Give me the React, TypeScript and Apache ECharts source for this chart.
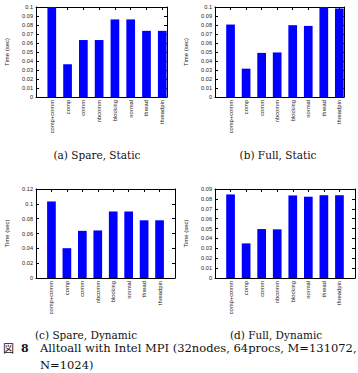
import React, { useEffect, useRef } from "react";
import * as echarts from "echarts";

// Benchmark variants shown on every panel's horizontal axis
const CATEGORIES = ["comp+comm", "comp", "comm", "nbcomm", "blocking", "normal", "thread", "threadpin"];

// Elapsed time (sec) per variant
const SPARE_STATIC = [0.1, 0.0363, 0.0633, 0.0633, 0.0862, 0.0862, 0.0735, 0.0735];
const FULL_STATIC = [0.0805, 0.0315, 0.049, 0.0495, 0.0798, 0.079, 0.1, 0.0982];
const SPARE_DYNAMIC = [0.1032, 0.0402, 0.0636, 0.0641, 0.0897, 0.0897, 0.0778, 0.0778];
const FULL_DYNAMIC = [0.0845, 0.035, 0.0495, 0.0492, 0.0835, 0.0822, 0.0837, 0.0837];

// Vertical axis ranges per panel
const Y_MAX = [0.1, 0.1, 0.12, 0.09];
const Y_STEP = [0.01, 0.01, 0.02, 0.01];

const CAPTIONS = ["(a) Spare, Static", "(b) Full, Static", "(c) Spare, Dynamic", "(d) Full, Dynamic"];
const FIG_LABEL = "図";
const FIG_NUMBER = "8";
const FIG_LINE1 = "Alltoall with Intel MPI (32nodes, 64procs, M=131072,";
const FIG_LINE2 = "N=1024)";
const Y_NAME = "Time (sec)";

const SERIES = [SPARE_STATIC, FULL_STATIC, SPARE_DYNAMIC, FULL_DYNAMIC];

// Panel geometry (pixels) and x extents
const PANELS = [
  { left: 36, top: 7, width: 131, height: 90, xMax: 7.3, capX: 97, capY: 155 },
  { left: 215, top: 7, width: 129, height: 90, xMax: 7.3, capX: 278, capY: 155 },
  { left: 36, top: 189, width: 139, height: 89, xMax: 8, capX: 86, capY: 335 },
  { left: 215, top: 189, width: 140, height: 89, xMax: 8, capX: 276, capY: 335 },
];

const SANS = "Liberation Sans";
const SERIF = "DejaVu Serif";

// category name for an integer position on the x axis, blank elsewhere
const catName = (v: number) => {
  const i = Math.round(v);
  return Math.abs(v - i) < 1e-6 && i >= 0 && i < CATEGORIES.length ? CATEGORIES[i] : "";
};

const FRAME = { show: true, onZero: false, lineStyle: { color: "#000", width: 1 } };
const TICK = { show: true, inside: true, length: 3, lineStyle: { color: "#000" } };

export default function App() {
  const ref = useRef<HTMLDivElement>(null);

  useEffect(() => {
    document.body.style.margin = "0";
    if (!ref.current) return;
    const chart = echarts.init(ref.current, null, { renderer: "svg" });

    const grid: any[] = [];
    const xAxis: any[] = [];
    const yAxis: any[] = [];
    const series: any[] = [];
    const graphic: any[] = [];

    PANELS.forEach((p, k) => {
      grid.push({ left: p.left, top: p.top, width: p.width, height: p.height });
      // bottom axis with category names
      xAxis.push({
        type: "value",
        gridIndex: k,
        min: -1,
        max: p.xMax,
        interval: 1,
        axisLine: FRAME,
        splitLine: { show: false },
        axisTick: TICK,
        axisLabel: {
          show: true,
          showMinLabel: false,
          showMaxLabel: false,
          rotate: 90,
          margin: 3,
          fontSize: 5.8,
          fontFamily: SANS,
          color: "#222",
          formatter: catName,
        },
      });
      // mirrored top ticks
      xAxis.push({
        type: "value",
        gridIndex: k,
        position: "top",
        min: -1,
        max: p.xMax,
        interval: 1,
        axisLine: FRAME,
        splitLine: { show: false },
        axisTick: TICK,
        axisLabel: { show: false },
      });
      yAxis.push({
        type: "value",
        gridIndex: k,
        min: 0,
        max: Y_MAX[k],
        interval: Y_STEP[k],
        name: Y_NAME,
        nameLocation: "middle",
        nameGap: 26,
        nameTextStyle: { fontSize: 6, fontFamily: SANS, color: "#222" },
        axisLine: FRAME,
        splitLine: { show: false },
        axisTick: TICK,
        axisLabel: { fontSize: 5.6, fontFamily: SANS, color: "#222", margin: 3 },
      });
      // mirrored right ticks
      yAxis.push({
        type: "value",
        gridIndex: k,
        position: "right",
        min: 0,
        max: Y_MAX[k],
        interval: Y_STEP[k],
        axisLine: FRAME,
        splitLine: { show: false },
        axisTick: TICK,
        axisLabel: { show: false },
      });
      series.push({
        type: "bar",
        xAxisIndex: k * 2,
        yAxisIndex: k * 2,
        barWidth: 8.7,
        itemStyle: { color: "#0000ff" },
        data: SERIES[k].map((v, i) => [i, v]),
      });
      graphic.push({
        type: "text",
        x: p.capX,
        y: p.capY,
        style: {
          text: CAPTIONS[k],
          fontFamily: SERIF,
          fontSize: 10.5,
          fill: "#111",
          align: "center",
          verticalAlign: "middle",
        },
      });
    });

    graphic.push(
      {
        type: "text",
        x: 3,
        y: 348,
        style: {
          text: FIG_LABEL,
          fontFamily: "Noto Sans CJK JP",
          fontSize: 11,
          fill: "#111",
          verticalAlign: "middle",
        },
      },
      {
        type: "text",
        x: 21,
        y: 348,
        style: {
          text: FIG_NUMBER,
          fontFamily: SERIF,
          fontWeight: "bold",
          fontSize: 11,
          fill: "#111",
          verticalAlign: "middle",
        },
      },
      {
        type: "text",
        x: 40,
        y: 348,
        style: { text: FIG_LINE1, fontFamily: SERIF, fontSize: 11.5, fill: "#111", verticalAlign: "middle" },
      },
      {
        type: "text",
        x: 40,
        y: 365,
        style: { text: FIG_LINE2, fontFamily: SERIF, fontSize: 11.5, fill: "#111", verticalAlign: "middle" },
      }
    );

    chart.setOption({
      animation: false,
      backgroundColor: "#fff",
      grid,
      xAxis,
      yAxis,
      series,
      graphic,
    });

    return () => chart.dispose();
  }, []);

  return <div ref={ref} style={{ width: 358, height: 373 }} />;
}
